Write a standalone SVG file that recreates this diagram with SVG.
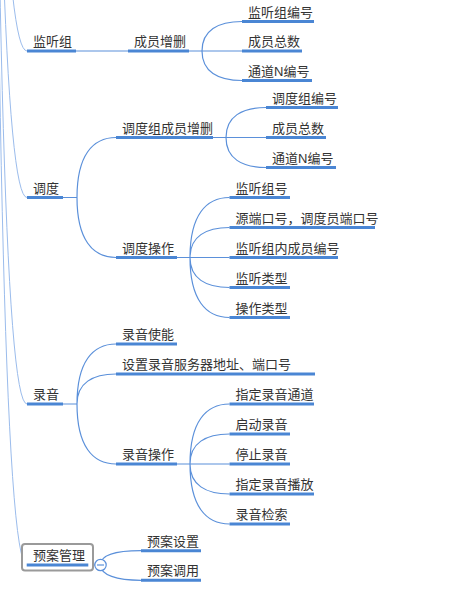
<svg xmlns="http://www.w3.org/2000/svg" width="457" height="597" viewBox="0 0 457 597">
<style>
.t{font-family:"Liberation Sans","Noto Sans CJK SC",sans-serif;font-size:13px;fill:#333}
.u{stroke:#4a86d4;stroke-width:3;fill:none}
.c{stroke:#5b90da;stroke-width:1.2;fill:none}
.r{stroke:#9bbcec;stroke-width:1;fill:none}
</style>
<rect width="457" height="597" fill="#fff"/>
<g id="connectors">
<path class="r" d="M-6,-850 Q-6,51 27,51"/>
<path class="r" d="M-6,-850 Q-6,197.5 27,197.5"/>
<path class="r" d="M-6,-850 Q-6,404 27,404"/>
<path class="r" d="M-6,-850 Q-6,565 27,565"/>
<path class="c" d="M76,51 H128 M189,51 H202 M63,197.5 H77 M213,137.5 H226 M177,257.5 H190 M63,404 H77 M177,464 H190 M88,565 H100"/>
<path class="c" d="M202,51 C202,30.35 218,21.5 242,21.5 M202,51 H242 M202,51 C202,71.65 218,80.5 242,80.5"/>
<path class="c" d="M77,197.5 C77,155.5 92.6,137.5 116,137.5 M77,197.5 C77,239.5 92.6,257.5 116,257.5"/>
<path class="c" d="M226,137.5 C226,116.5 242,107.5 266,107.5 M226,137.5 H266 M226,137.5 C226,158.5 242,167.5 266,167.5"/>
<path class="c" d="M190,257.5 C190,215.5 205.8,197.5 229.5,197.5 M190,257.5 C190,236.5 205.8,227.5 229.5,227.5 M190,257.5 H229.5 M190,257.5 C190,278.5 205.8,287.5 229.5,287.5 M190,257.5 C190,299.5 205.8,317.5 229.5,317.5"/>
<path class="c" d="M77,404 C77,362 92.6,344 116,344 M77,404 C77,383 92.6,374 116,374 M77,404 C77,446 92.6,464 116,464"/>
<path class="c" d="M190,464 C190,422 205.8,404 229.5,404 M190,464 C190,443 205.8,434 229.5,434 M190,464 H229.5 M190,464 C190,485 205.8,494 229.5,494 M190,464 C190,506 205.8,524 229.5,524"/>
<path class="c" d="M100.5,565 C100.5,555 116.7,550.7 141,550.7 M100.5,565 C100.5,575 116.7,580.3 141,580.3"/>
</g>
<g id="n1"><line class="u" x1="27" y1="51" x2="76" y2="51"/><text class="t" x="33" y="46">监听组</text></g>
<g id="n1a"><line class="u" x1="128" y1="51" x2="189" y2="51"/><text class="t" x="134" y="46">成员增删</text></g>
<g id="n1a1"><line class="u" x1="242" y1="21.5" x2="314" y2="21.5"/><text class="t" x="248" y="16.5">监听组编号</text></g>
<g id="n1a2"><line class="u" x1="242" y1="51" x2="302" y2="51"/><text class="t" x="248" y="46">成员总数</text></g>
<g id="n1a3"><line class="u" x1="242" y1="80.5" x2="312" y2="80.5"/><text class="t" x="248" y="75.5">通道N编号</text></g>
<g id="n2"><line class="u" x1="27" y1="197.5" x2="63" y2="197.5"/><text class="t" x="33" y="192.5">调度</text></g>
<g id="n2a"><line class="u" x1="116" y1="137.5" x2="213" y2="137.5"/><text class="t" x="122" y="132.5">调度组成员增删</text></g>
<g id="n2a1"><line class="u" x1="266" y1="107.5" x2="338" y2="107.5"/><text class="t" x="272" y="102.5">调度组编号</text></g>
<g id="n2a2"><line class="u" x1="266" y1="137.5" x2="326" y2="137.5"/><text class="t" x="272" y="132.5">成员总数</text></g>
<g id="n2a3"><line class="u" x1="266" y1="167.5" x2="336" y2="167.5"/><text class="t" x="272" y="162.5">通道N编号</text></g>
<g id="n2b"><line class="u" x1="116" y1="257.5" x2="177" y2="257.5"/><text class="t" x="122" y="252.5">调度操作</text></g>
<g id="n2b1"><line class="u" x1="229.5" y1="197.5" x2="290" y2="197.5"/><text class="t" x="235.5" y="192.5">监听组号</text></g>
<g id="n2b2"><line class="u" x1="229.5" y1="227.5" x2="375" y2="227.5"/><text class="t" x="235.5" y="222.5">源端口号，调度员端口号</text></g>
<g id="n2b3"><line class="u" x1="229.5" y1="257.5" x2="338" y2="257.5"/><text class="t" x="235.5" y="252.5">监听组内成员编号</text></g>
<g id="n2b4"><line class="u" x1="229.5" y1="287.5" x2="290" y2="287.5"/><text class="t" x="235.5" y="282.5">监听类型</text></g>
<g id="n2b5"><line class="u" x1="229.5" y1="317.5" x2="290" y2="317.5"/><text class="t" x="235.5" y="312.5">操作类型</text></g>
<g id="n3"><line class="u" x1="27" y1="404" x2="63" y2="404"/><text class="t" x="33" y="399">录音</text></g>
<g id="n3a"><line class="u" x1="116" y1="344" x2="177" y2="344"/><text class="t" x="122" y="339">录音使能</text></g>
<g id="n3b"><line class="u" x1="116" y1="374" x2="315" y2="374"/><text class="t" x="122" y="369">设置录音服务器地址、端口号</text></g>
<g id="n3c"><line class="u" x1="116" y1="464" x2="177" y2="464"/><text class="t" x="122" y="459">录音操作</text></g>
<g id="n3c1"><line class="u" x1="229.5" y1="404" x2="314" y2="404"/><text class="t" x="235.5" y="399">指定录音通道</text></g>
<g id="n3c2"><line class="u" x1="229.5" y1="434" x2="290" y2="434"/><text class="t" x="235.5" y="429">启动录音</text></g>
<g id="n3c3"><line class="u" x1="229.5" y1="464" x2="290" y2="464"/><text class="t" x="235.5" y="459">停止录音</text></g>
<g id="n3c4"><line class="u" x1="229.5" y1="494" x2="314" y2="494"/><text class="t" x="235.5" y="489">指定录音播放</text></g>
<g id="n3c5"><line class="u" x1="229.5" y1="524" x2="290" y2="524"/><text class="t" x="235.5" y="519">录音检索</text></g>
<g id="n4">
<rect x="22" y="544" width="71" height="26.5" rx="3" fill="#fff" stroke="#9a9a9a" stroke-width="2"/>
<line class="u" x1="26.7" y1="565" x2="88.3" y2="565"/>
<text class="t" x="33" y="560">预案管理</text>
<circle cx="100.5" cy="565" r="5.7" fill="#fff" stroke="#5b90da" stroke-width="1.2"/>
<line x1="97" y1="565" x2="104" y2="565" stroke="#5b90da" stroke-width="1.2"/>
</g>
<g id="n4a"><line class="u" x1="141" y1="550.7" x2="201" y2="550.7"/><text class="t" x="147" y="545.7">预案设置</text></g>
<g id="n4b"><line class="u" x1="141" y1="580.3" x2="201" y2="580.3"/><text class="t" x="147" y="575.3">预案调用</text></g>
</svg>
